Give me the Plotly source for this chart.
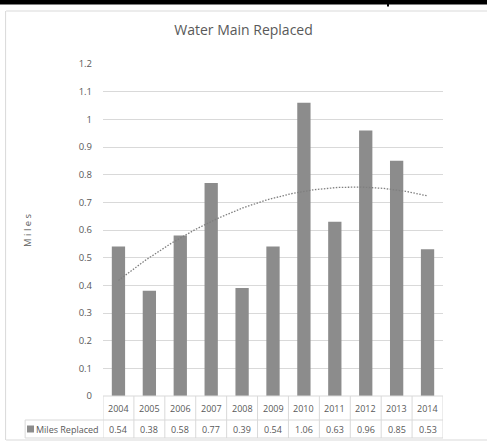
import numpy as np
import plotly.graph_objects as go

years = [2004, 2005, 2006, 2007, 2008, 2009, 2010, 2011, 2012, 2013, 2014]
miles = [0.54, 0.38, 0.58, 0.77, 0.39, 0.54, 1.06, 0.63, 0.96, 0.85, 0.53]
series_name = "Miles Replaced"
title = "Water Main Replaced"
y_title = "M i l e s"
y_ticks = [0, 0.1, 0.2, 0.3, 0.4, 0.5, 0.6, 0.7, 0.8, 0.9, 1, 1.1, 1.2]

TXT = "#595959"
GRID = "#d9d9d9"
BAR = "#8c8c8c"
FONT = "Open Sans"

# polynomial (order 2) trendline, as in the original spreadsheet chart
coef = np.polyfit(np.array(years) - 2004, miles, 2)
tx = np.linspace(2004, 2014, 200)
ty = np.polyval(coef, tx - 2004)

fig = go.Figure()
fig.add_trace(go.Bar(x=years, y=miles, marker=dict(color=BAR, line=dict(width=0)),
                     name=series_name, showlegend=False))
fig.add_trace(go.Scatter(x=tx, y=ty, mode="lines",
                         line=dict(color="#7f7f7f", width=1.3, dash="1.5px,1.5px"),
                         showlegend=False, hoverinfo="skip"))

# data table text
y_row1 = -0.039
y_row2 = -0.0994
for yr, v in zip(years, miles):
    fig.add_annotation(x=yr, y=y_row1, xref="x", yref="paper", text=str(yr),
                       xanchor="center", yanchor="middle", showarrow=False,
                       font=dict(size=9, color=TXT, family=FONT))
    fig.add_annotation(x=yr, y=y_row2, xref="x", yref="paper", text=f"{v:.2f}",
                       xanchor="center", yanchor="middle", showarrow=False,
                       font=dict(size=9, color=TXT, family=FONT))
fig.add_annotation(x=-0.006, y=y_row2, xref="paper", yref="paper",
                   text=series_name, xanchor="right", yanchor="middle", showarrow=False,
                   font=dict(size=9, color=TXT, family=FONT))
# y-axis title
fig.add_annotation(x=(27 - 103) / 340, y=0.5, xref="paper", yref="paper",
                   text=y_title, textangle=-90, xanchor="center", yanchor="middle",
                   showarrow=False, font=dict(size=9.5, color=TXT, family=FONT))

shapes = []
# legend key square
shapes.append(dict(type="rect", xref="paper", yref="paper",
                   x0=(27 - 103) / 340, x1=(34 - 103) / 340,
                   y0=(396 - 425.5) / 332, y1=(396 - 432.5) / 332,
                   fillcolor=BAR, line=dict(width=0)))
# vertical table lines at category boundaries
for i in range(len(years) + 1):
    xb = years[0] - 0.5 + i
    shapes.append(dict(type="line", xref="x", yref="paper", x0=xb, x1=xb,
                       y0=0, y1=-0.1265, line=dict(color=GRID, width=1)))
# horizontal table lines
for yy in [-0.0723, -0.1265]:
    shapes.append(dict(type="line", xref="paper", yref="paper", x0=-0.229, x1=1,
                       y0=yy, y1=yy, line=dict(color=GRID, width=1)))
shapes.append(dict(type="line", xref="paper", yref="paper", x0=-0.229, x1=-0.229,
                   y0=-0.0723, y1=-0.1265, line=dict(color=GRID, width=1)))
shapes.append(dict(type="line", xref="paper", yref="paper", x0=0, x1=1,
                   y0=0, y1=0, line=dict(color=GRID, width=1)))
# outer chart border
shapes.append(dict(type="line", xref="paper", yref="paper", x0=-0.285, x1=1.13,
                   y0=(396 - 11) / 332, y1=(396 - 11) / 332, line=dict(color=GRID, width=1)))
shapes.append(dict(type="line", xref="paper", yref="paper", x0=-0.285, x1=1.13,
                   y0=(396 - 440) / 332, y1=(396 - 440) / 332, line=dict(color=GRID, width=1)))
shapes.append(dict(type="line", xref="paper", yref="paper", x0=-0.2865, x1=-0.2865,
                   y0=(396 - 11) / 332, y1=(396 - 440) / 332, line=dict(color=GRID, width=1)))
# black band at the very top
shapes.append(dict(type="rect", xref="paper", yref="paper", x0=-0.31, x1=1.14,
                   y0=(396 - 0) / 332, y1=(396 - 4.5) / 332,
                   fillcolor="black", line=dict(width=0)))
shapes.append(dict(type="rect", xref="paper", yref="paper",
                   x0=(387 - 103) / 340, x1=(389 - 103) / 340,
                   y0=(396 - 4) / 332, y1=(396 - 6.5) / 332,
                   fillcolor="black", line=dict(width=0)))

fig.update_layout(
    width=487, height=445,
    margin=dict(l=103, r=44, t=64, b=49),
    paper_bgcolor="white", plot_bgcolor="white",
    title=dict(text=title, x=0.5, xref="container", xanchor="center",
               y=1 - 30 / 445, yanchor="middle",
               font=dict(size=14, color=TXT, family=FONT)),
    bargap=0.57,
    shapes=shapes,
    showlegend=False,
    xaxis=dict(range=[years[0] - 0.5, years[-1] + 0.5], showticklabels=False,
               showgrid=False, zeroline=False, ticks="", automargin=False),
    yaxis=dict(range=[0, 1.2], tickvals=y_ticks,
               ticktext=[f"{v:g}" for v in y_ticks],
               showgrid=True, gridcolor=GRID, gridwidth=1, zeroline=False,
               ticks="", ticklabelstandoff=10, automargin=False,
               tickfont=dict(size=9.5, color=TXT, family=FONT)),
)

fig.write_html("out.html", config={"displayModeBar": False},
               post_script="document.body.style.margin='0';document.body.style.overflow='hidden';")
